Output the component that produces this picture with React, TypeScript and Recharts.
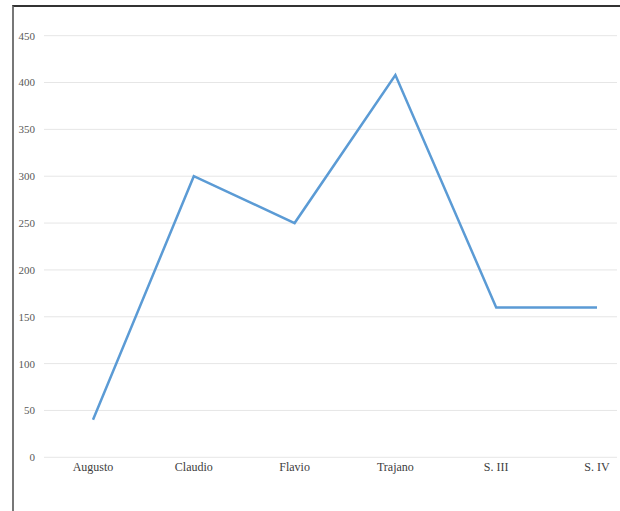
import { LineChart, Line, XAxis, YAxis, CartesianGrid } from 'recharts';

// Emperors / periods on the x axis
const periods = ['Augusto', 'Claudio', 'Flavio', 'Trajano', 'S. III', 'S. IV'];
const counts = [40, 300, 250, 408, 160, 160];
const yTicks = [0, 50, 100, 150, 200, 250, 300, 350, 400, 450];

const colors = {
  line: '#5B9BD5',
  grid: '#E6E6E6',
  yText: '#595959',
  xText: '#404040',
};

const data = periods.map((p, i) => ({ period: p, value: counts[i] }));

const serif = '"Liberation Serif", "Times New Roman", serif';

export default function App() {
  return (
    <div
      style={{
        position: 'absolute',
        left: 0,
        top: 0,
        width: 620,
        height: 511,
        overflow: 'hidden',
        background: '#fff',
      }}
    >
      <div
        style={{
          position: 'absolute',
          left: 12,
          top: 5,
          width: 700,
          height: 600,
          borderLeft: '2px solid #777',
          borderTop: '2px solid #333',
        }}
      />
      {/* chart runs past the frame on the right, clip it like the scan */}
      <div
        style={{
          position: 'absolute',
          left: 0,
          top: 0,
          width: 617,
          height: 511,
          overflow: 'hidden',
        }}
      >
        <LineChart
          width={700}
          height={511}
          data={data}
          margin={{ top: 35.7, right: 54, left: 0, bottom: 23.7 }}
        >
          <CartesianGrid vertical={false} stroke={colors.grid} strokeWidth={1} />
          <XAxis
            dataKey="period"
            height={30}
            axisLine={false}
            tickLine={false}
            tickSize={0}
            tickMargin={5}
            padding={{ left: 49, right: 49 }}
            tick={{ fill: colors.xText, fontSize: 12, fontFamily: serif }}
          />
          <YAxis
            width={44}
            domain={[0, 450]}
            ticks={yTicks}
            axisLine={false}
            tickLine={false}
            tickSize={0}
            tickMargin={9}
            tick={{ fill: colors.yText, fontSize: 11, fontFamily: serif }}
          />
          <Line
            type="linear"
            dataKey="value"
            stroke={colors.line}
            strokeWidth={2.5}
            dot={false}
            isAnimationActive={false}
          />
        </LineChart>
      </div>
    </div>
  );
}
